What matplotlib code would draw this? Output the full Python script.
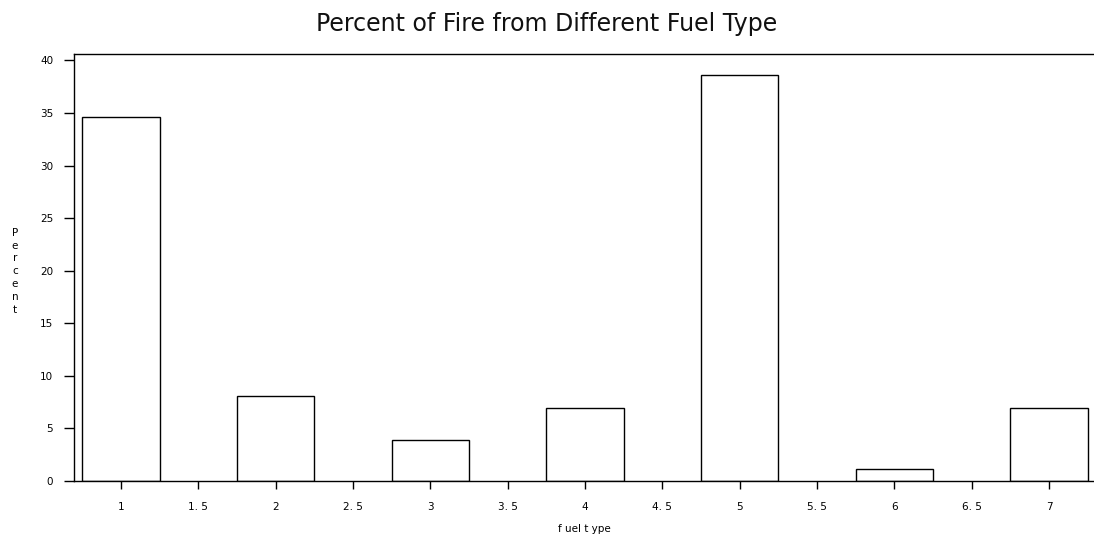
import numpy as np
import matplotlib
matplotlib.use('Agg')
import matplotlib.pyplot as plt

# percent of fires per fuel type
fuel_type = [1, 2, 3, 4, 5, 6, 7]
percent = [34.6, 8.1, 3.9, 6.9, 38.6, 1.1, 6.9]

xticks = [1, 1.5, 2, 2.5, 3, 3.5, 4, 4.5, 5, 5.5, 6, 6.5, 7]
xticklabels = ['1', '1. 5', '2', '2. 5', '3', '3. 5', '4', '4. 5',
               '5', '5. 5', '6', '6. 5', '7']
yticks = [0, 5, 10, 15, 20, 25, 30, 35, 40]

plt.rcParams['font.family'] = 'DejaVu Sans'

fig = plt.figure(figsize=(10.94, 5.35), dpi=100)
ax = fig.add_axes([0.0676, 0.1009, 0.9324, 0.798])

ax.bar(fuel_type, percent, width=0.5, color='white', edgecolor='black',
       linewidth=1.0)

ax.set_xlim(0.696, 7.29)
ax.set_ylim(0, 40.6)

ax.set_xticks(xticks)
ax.set_xticklabels(xticklabels, fontsize=7.5)
ax.set_yticks(yticks)
ax.set_yticklabels([str(v) for v in yticks], fontsize=7.5)
ax.tick_params(axis='x', direction='out', length=6, width=1, pad=9)
ax.tick_params(axis='y', direction='out', length=7, width=1, pad=8)

ax.spines['right'].set_visible(False)
for s in ['left', 'top', 'bottom']:
    ax.spines[s].set_linewidth(1.0)

ax.set_xlabel('f uel t ype', fontsize=7.5, labelpad=9)
fig.text(0.0137, 0.493, '\n'.join('Percent'), fontsize=7.5, ha='center',
         va='center', linespacing=1.35)

fig.text(0.5, 0.955, 'Percent of Fire from Different Fuel Type',
         fontsize=17, ha='center', va='center', color='#111111')

fig.savefig('out.png', dpi=100)
